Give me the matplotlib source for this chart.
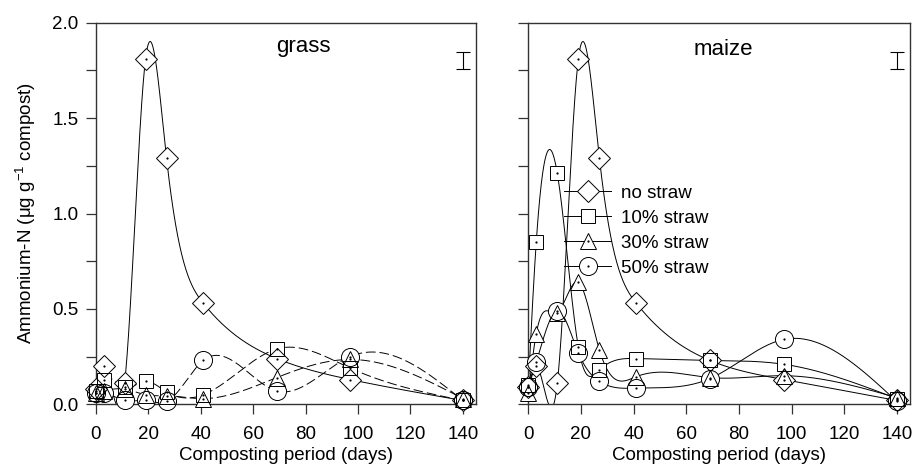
import numpy as np
import matplotlib
matplotlib.use('Agg')
import matplotlib.pyplot as plt
from matplotlib.lines import Line2D
from matplotlib.legend_handler import HandlerTuple

plt.rcParams['font.family'] = ['Liberation Sans', 'DejaVu Sans']
plt.rcParams['mathtext.default'] = 'regular'

# sampling days
days = [0, 3, 11, 19, 27, 41, 69, 97, 140]

# grass composts
grass_no = [0.08, 0.20, 0.11, 1.81, 1.29, 0.53, 0.24, 0.13, 0.02]
grass_10 = [0.07, 0.13, 0.09, 0.12, 0.065, 0.05, 0.29, 0.19, 0.02]
grass_30 = [0.06, 0.07, 0.08, 0.05, 0.045, 0.03, 0.14, 0.235, 0.03]
grass_50 = [0.06, 0.06, 0.02, 0.02, 0.015, 0.23, 0.07, 0.25, 0.02]

# maize composts
maize_no = [0.09, 0.20, 0.11, 1.81, 1.29, 0.53, 0.23, 0.13, 0.02]
maize_10 = [0.10, 0.85, 1.21, 0.30, 0.18, 0.24, 0.23, 0.21, 0.03]
maize_30 = [0.06, 0.37, 0.48, 0.64, 0.285, 0.145, 0.14, 0.15, 0.035]
maize_50 = [0.09, 0.22, 0.49, 0.27, 0.12, 0.085, 0.135, 0.34, 0.015]

labels = ['no straw', '10% straw', '30% straw', '50% straw']
markers = ['D', 's', '^', 'o']
msizes = [11, 10.5, 12, 13]

# error bar drawn in the corner (LSD)
err_x = 140
err_y = 1.802
err_half = 0.046


def spline(x, y, n=2000):
    # natural cubic spline, only used to draw the smooth curve through the points
    x = np.asarray(x, float)
    y = np.asarray(y, float)
    h = np.diff(x)
    nn = len(x)
    A = np.zeros((nn, nn))
    r = np.zeros(nn)
    A[0, 0] = A[-1, -1] = 1
    for i in range(1, nn - 1):
        A[i, i - 1] = h[i - 1]
        A[i, i] = 2 * (h[i - 1] + h[i])
        A[i, i + 1] = h[i]
        r[i] = 6 * ((y[i + 1] - y[i]) / h[i] - (y[i] - y[i - 1]) / h[i - 1])
    M = np.linalg.solve(A, r)
    xs = np.linspace(x[0], x[-1], n)
    k = np.clip(np.searchsorted(x, xs) - 1, 0, nn - 2)
    t0 = x[k + 1] - xs
    t1 = xs - x[k]
    ys = (M[k] * t0**3 / (6 * h[k]) + M[k + 1] * t1**3 / (6 * h[k])
          + (y[k] / h[k] - M[k] * h[k] / 6) * t0
          + (y[k + 1] / h[k] - M[k + 1] * h[k] / 6) * t1)
    return xs, ys


fig = plt.figure(figsize=(9.16, 4.72), dpi=100)
ax1 = fig.add_axes([0.1045, 0.1434, 0.4152, 0.8085])
ax2 = fig.add_axes([0.5768, 0.1434, 0.4166, 0.8085])


def panel(ax, series, styles, title, tx, ty):
    for s, ls in zip(series, styles):
        xs, ys = spline(days, s)
        if ls == 'dash':
            ax.plot(xs, ys, color='k', lw=0.7, dashes=(10, 4), zorder=2)
        else:
            ax.plot(xs, ys, color='k', lw=0.7, zorder=2)
    for s, m, ms in zip(series, markers, msizes):
        ax.plot(days, s, ls='none', marker=m, ms=ms, mfc='white', mec='none', zorder=3, clip_on=False)
    for s, m, ms in zip(series, markers, msizes):
        ax.plot(days, s, ls='none', marker=m, ms=ms, mfc='none', mec='k', mew=0.7, zorder=4, clip_on=False)
        ax.plot(days, s, ls='none', marker='o', ms=1.6, mfc='k', mec='none', zorder=5, clip_on=False)
    ax.errorbar([err_x], [err_y], yerr=err_half, color='k', lw=0.8, capsize=5, capthick=0.8)
    ax.text(tx, ty, title, fontsize=16, ha='center', va='center')
    ax.set_xlim(0, 145)
    ax.set_ylim(0, 2.0)
    ax.set_xticks(range(0, 141, 20))
    ax.set_yticks([0, 0.5, 1.0, 1.5, 2.0])
    ax.set_yticks(np.arange(0, 2.01, 0.25), minor=True)
    ax.tick_params(axis='both', which='both', direction='out', length=7.5, width=0.9,
                   labelsize=13.5, color='#333333')
    ax.tick_params(axis='x', pad=8)
    ax.tick_params(axis='y', pad=5)
    for sp in ax.spines.values():
        sp.set_linewidth(1.0)
        sp.set_color('#333333')
    ax.set_xlabel('Composting period (days)', fontsize=13.5, labelpad=3)


panel(ax1, [grass_no, grass_10, grass_30, grass_50], ['solid', 'dash', 'dash', 'dash'], 'grass', 79, 1.873)
panel(ax2, [maize_no, maize_10, maize_30, maize_50], ['solid'] * 4, 'maize', 74, 1.857)

ax1.set_yticklabels(['0.0', '0.5', '1.0', '1.5', '2.0'])
ax2.set_yticklabels([])
ax1.set_ylabel(r'Ammonium-N ($\mu$g g$^{-1}$ compost)', fontsize=13.5, labelpad=10)

handles = []
for i, (m, ms) in enumerate(zip(markers, msizes)):
    h1 = Line2D([], [], color='k', lw=0.7, marker=m, ms=ms, mfc='white', mec='k', mew=0.7)
    if i >= 2:
        h2 = Line2D([], [], ls='none', marker='o', ms=1.6, mfc='k', mec='none')
        handles.append((h1, h2))
    else:
        handles.append(h1)
ax2.legend(handles, labels, loc='upper left', bbox_to_anchor=(0.094, 0.575), frameon=False,
           fontsize=13.5, handlelength=2.5, handletextpad=0.55, labelspacing=0.42,
           borderpad=0, borderaxespad=0, handler_map={tuple: HandlerTuple(ndivide=1, pad=0)})

fig.savefig('out.png', dpi=100)
